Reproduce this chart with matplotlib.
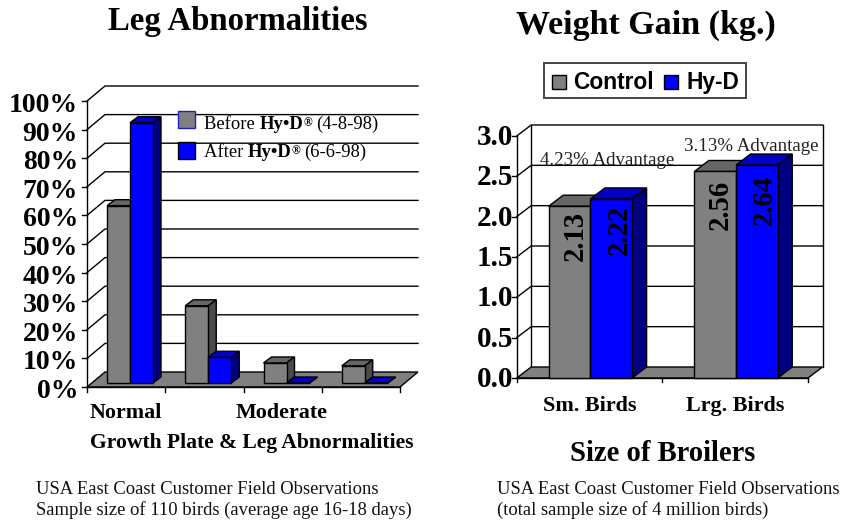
import matplotlib
matplotlib.use("Agg")
import matplotlib.pyplot as plt
from matplotlib.patches import Polygon, Rectangle

W, H = 846, 522
plt.rcParams['font.family'] = ['Liberation Serif', 'DejaVu Serif']

# ---- data ----
leg_categories = ['Normal', '', 'Moderate', '']
leg_before = [62, 27, 7, 6]
leg_after = [91, 9, 0, 0]
leg_ticks = [0, 10, 20, 30, 40, 50, 60, 70, 80, 90, 100]

wt_categories = ['Sm. Birds', 'Lrg. Birds']
wt_control = [2.13, 2.56]
wt_hyd = [2.22, 2.64]
wt_ticks = [0.0, 0.5, 1.0, 1.5, 2.0, 2.5, 3.0]

GRAY = ('#808080', '#666666', '#4a4a4a')
BLUE = ('#0000ff', '#0000c8', '#000080')

fig = plt.figure(figsize=(W / 100, H / 100), dpi=100, facecolor='white')


def px_axes(x0, x1, y_bottom, y_top):
    ax = fig.add_axes([x0 / W, 1 - y_bottom / H, (x1 - x0) / W, (y_bottom - y_top) / H])
    ax.patch.set_visible(False)
    for s in ax.spines.values():
        s.set_visible(False)
    return ax


def ftext(x, y, s, **kw):
    kw.setdefault('ha', 'left')
    kw.setdefault('va', 'baseline')
    return fig.text(x / W, 1 - y / H, s, **kw)


def bar3d(ax, x0, x1, y0, y1, ddx, ddy, cols, z):
    lw = 1.0
    ax.add_patch(Polygon([(x0, y1), (x1, y1), (x1 + ddx, y1 + ddy), (x0 + ddx, y1 + ddy)],
                         fc=cols[1], ec='k', lw=lw, zorder=z, clip_on=False))
    ax.add_patch(Polygon([(x1, y0), (x1 + ddx, y0 + ddy), (x1 + ddx, y1 + ddy), (x1, y1)],
                         fc=cols[2], ec='k', lw=lw, zorder=z, clip_on=False))
    ax.add_patch(Rectangle((x0, y0), x1 - x0, y1 - y0, fc=cols[0], ec='k', lw=lw,
                           zorder=z + 0.1, clip_on=False))


def frame3d(ax, xmax, ticks, dx, dy, xticks, back_box):
    top = ticks[-1]
    ax.set_xlim(0, xmax)
    ax.set_ylim(0, top)
    ax.set_xticks([])
    ax.set_yticks([])
    for t in ticks[1:]:
        ax.plot([0, dx, xmax + dx], [t, t + dy, t + dy], color='k', lw=1.0, zorder=1, clip_on=False)
    ax.add_patch(Polygon([(0, 0), (xmax, 0), (xmax + dx, dy), (dx, dy)], fc='#808080', ec='k',
                         lw=1.0, zorder=1.5, clip_on=False))
    ax.plot([0, 0], [0, top], color='k', lw=1.0, zorder=1.2, clip_on=False)
    if back_box:
        ax.plot([dx, dx], [dy, top + dy], color='k', lw=1.0, zorder=1, clip_on=False)
        ax.plot([xmax + dx, xmax + dx], [dy, top + dy], color='k', lw=1.0, zorder=1, clip_on=False)
    ax.plot([0, xmax], [0, 0], color='k', lw=1.0, zorder=1.6, clip_on=False)
    xspan = ax.get_xlim()[1]
    for t in ticks:
        ax.plot([0, -xspan * 0.016], [t, t], color='k', lw=1.0, clip_on=False, zorder=1.6)
    for x in xticks:
        ax.plot([x, x], [0, -top * 0.018], color='k', lw=1.0, clip_on=False, zorder=1.6)


# ---- left chart ----
axL = px_axes(87, 400, 387, 101)
ldx, ldy = 18 / (313 / 4), 15 / 2.86
frame3d(axL, 4, leg_ticks, ldx, ldy, range(5), False)
bw = 23 / (313 / 4)
bdx, bdy = 8 / (313 / 4), 6 / 2.86
base = 4 / 2.86
off = 20 / (313 / 4)
for i, (a, b) in enumerate(zip(leg_before, leg_after)):
    x = i + off
    bar3d(axL, x, x + bw, base, base + a, bdx, bdy, GRAY, 2 + i)
    bar3d(axL, x + bw, x + 2 * bw, base, base + b, bdx, bdy, BLUE, 2.5 + i)
for t in leg_ticks:
    axL.text(-0.115, t - 1.6, f'{t}%', ha='right', va='center', fontsize=20, fontweight='bold',
             color='k', clip_on=False)
for i, c in enumerate(leg_categories):
    if c:
        axL.text(i + 0.49, -5.6, c, ha='center', va='top', fontsize=15.8, fontweight='bold', clip_on=False)

# ---- right chart ----
axR = px_axes(516.7, 808, 378, 136)
rdx, rdy = 14.5 / 145.65, 11 / 80.67
frame3d(axR, 2, wt_ticks, rdx, rdy, range(3), True)
bwr = 41.7 / 145.65
offr = 32 / 145.65
control_gap = [0.06, 0.10]
hyd_gap = [0.07, 0.12]
for i, (a, b) in enumerate(zip(wt_control, wt_hyd)):
    x = i + offr
    bar3d(axR, x, x + bwr, 0, a, rdx, rdy, GRAY, 2 + i)
    bar3d(axR, x + bwr, x + 2 * bwr, 0, b, rdx, rdy, BLUE, 2.5 + i)
    axR.text(x + bwr * 0.63, a - control_gap[i], f'{a:.2f}', rotation=90, ha='center', va='top', fontsize=20.6,
             fontweight='bold', zorder=9)
    axR.text(x + bwr * 1.68, b - hyd_gap[i], f'{b:.2f}', rotation=90, ha='center', va='top', fontsize=20.6,
             fontweight='bold', zorder=9)
for t in wt_ticks:
    axR.text(-0.025, t - 0.02, f'{t:.1f}', ha='right', va='center', fontsize=21, fontweight='bold', clip_on=False)
for i, c in enumerate(wt_categories):
    axR.text(i + 0.5, -0.225, c, ha='center', va='top', fontsize=15.9, fontweight='bold', clip_on=False)
axR.text(0.16, 2.64, '4.23% Advantage', fontsize=13.6, color='#222222', va='baseline', zorder=9)
axR.text(1.148, 2.82, '3.13% Advantage', fontsize=13.6, color='#222222', va='baseline', zorder=9)

# ---- titles and labels ----
ftext(237.5, 30, 'Leg Abnormalities', ha='center', fontsize=23.6, fontweight='bold')
ftext(645.5, 34, 'Weight Gain (kg.)', ha='center', fontsize=24.5, fontweight='bold')
ftext(252, 448, 'Growth Plate & Leg Abnormalities', ha='center', fontsize=15.6, fontweight='bold')
ftext(663, 461, 'Size of Broilers', ha='center', fontsize=20.6, fontweight='bold')

small = dict(fontsize=13.45, color='#111111')
ftext(36, 494, 'USA East Coast Customer Field Observations', **small)
ftext(36, 515, 'Sample size of 110 birds (average age 16-18 days)', **small)
ftext(497, 494, 'USA East Coast Customer Field Observations', **small)
ftext(497, 515, '(total sample size of 4 million birds)', **small)


# ---- left legend: mixed weight runs ----
def runs(x, y, parts):
    r = fig.canvas.get_renderer()
    for s, kw in parts:
        t = ftext(x, y, s, **kw)
        x = t.get_window_extent(r).x1
    return x


for y, fc, ec in [(127.7, '#808080', '#2020c0'), (158.7, '#0000ff', '#000000')]:
    fig.add_artist(Rectangle((178 / W, 1 - y / H), 16.5 / W, 16.5 / H, fc=fc, ec=ec, lw=1.0,
                             transform=fig.transFigure))
for y, label, date in [(129, 'Before ', '(4-8-98)'), (156.7, 'After ', '(6-6-98)')]:
    x = runs(204, y, [(label, dict(fontsize=13.4)),
                      ('Hy•D', dict(fontsize=13.4, fontweight='bold'))])
    t = ftext(x, y - 3, '®', fontsize=8.5, fontweight='bold')
    x2 = t.get_window_extent(fig.canvas.get_renderer()).x1
    ftext(x2 + 4, y, date, fontsize=13.4)

# ---- right legend ----
fig.add_artist(Rectangle((544 / W, 1 - 97.7 / H), 201.7 / W, 34.7 / H, fc='white', ec='#444444', lw=1.4,
                         transform=fig.transFigure))
for x, col in [(552, '#808080'), (664, '#0000ff')]:
    fig.add_artist(Rectangle((x / W, 1 - 89 / H), 14 / W, 14 / H, fc=col, ec='k', lw=1.0,
                             transform=fig.transFigure))
ftext(573, 89, 'Control', family=['Liberation Sans'], fontsize=16.4, fontweight='bold')
ftext(686, 89, 'Hy-D', family=['Liberation Sans'], fontsize=16.4, fontweight='bold')

fig.savefig('out.png', dpi=100)
